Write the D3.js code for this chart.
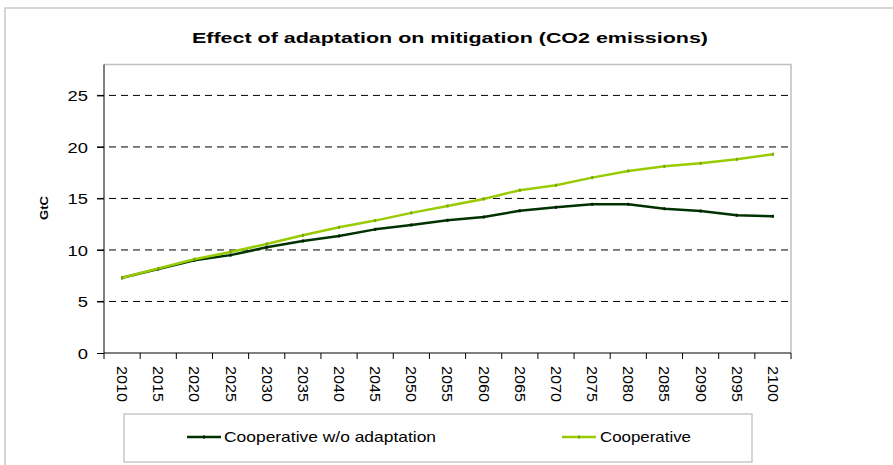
<!DOCTYPE html>
<html>
<head>
<meta charset="utf-8">
<script src="https://cdn.jsdelivr.net/npm/d3@7"></script>
<style>
  html, body { margin: 0; padding: 0; background: #ffffff; }
  svg { display: block; }
  text { font-family: "Liberation Sans", Arial, sans-serif; fill: #000; }
</style>
</head>
<body>
<svg id="chart" width="893" height="465"></svg>
<script>
const title = "Effect of adaptation on mitigation (CO2 emissions)";
const yAxisLabel = "GtC";
const years = ["2010","2015","2020","2025","2030","2035","2040","2045","2050","2055",
               "2060","2065","2070","2075","2080","2085","2090","2095","2100"];
const seriesNames = ["Cooperative w/o adaptation", "Cooperative"];
const noAdaptation = [7.3, 8.15, 9.0, 9.5, 10.26, 10.87, 11.36, 12.0, 12.43, 12.88,
                      13.2, 13.8, 14.14, 14.43, 14.43, 14.0, 13.78, 13.37, 13.27];
const cooperative  = [7.3, 8.2, 9.1, 9.8, 10.58, 11.42, 12.2, 12.85, 13.6, 14.27,
                      14.95, 15.8, 16.28, 17.02, 17.67, 18.12, 18.41, 18.8, 19.29];
const yTicks = [0, 5, 10, 15, 20, 25];
const yMax = 28;

(function () {
const colors = ["#003300", "#99cc00"];
const markerColors = ["#001a00", "#7aa300"];

const svg = d3.select("#chart");

// outer chart border
svg.append("rect")
  .attr("x", 5).attr("y", 8).attr("width", 900).attr("height", 470)
  .attr("fill", "none").attr("stroke", "#c8c8c8").attr("stroke-width", 1.5);

const pL = 104, pR = 791, pT = 64.5, pB = 353;
const x = d3.scaleBand().domain(years).range([pL, pR]).padding(0);
const y = d3.scaleLinear().domain([0, yMax]).range([pB, pT]);
const cx = d => x(d) + x.bandwidth() / 2;

// title
svg.append("text")
  .attr("x", 192).attr("y", 43)
  .attr("font-size", 15.5).attr("font-weight", "bold")
  .attr("textLength", 516).attr("lengthAdjust", "spacingAndGlyphs")
  .text(title);

// plot area border (top/right gray)
svg.append("path")
  .attr("d", `M${pL},${pT}H${pR}V${pB}`)
  .attr("fill", "none").attr("stroke", "#c0c0c0").attr("stroke-width", 1.5);

// gridlines
svg.append("g").selectAll("line")
  .data(yTicks.filter(t => t > 0))
  .join("line")
  .attr("x1", pL - 7).attr("x2", pR)
  .attr("y1", d => y(d)).attr("y2", d => y(d))
  .attr("stroke", "#000").attr("stroke-width", 1)
  .attr("stroke-dasharray", "7,5");

// y axis
const yAxis = d3.axisLeft(y).tickValues(yTicks).tickSize(7).tickPadding(9)
  .tickFormat(d3.format("d"));
const yg = svg.append("g").attr("transform", `translate(${pL},0)`).call(yAxis);
yg.select(".domain").attr("stroke", "#000").attr("d", `M0,${pT}V${pB}`);
yg.selectAll(".tick line").attr("stroke", "#000");
yg.selectAll(".tick text")
  .attr("font-size", 15)
  .attr("font-family", "'Liberation Sans', Arial, sans-serif")
  .attr("x", -16)
  .attr("dy", "0.36em")
  .attr("textLength", d => String(d).length * 10.2)
  .attr("lengthAdjust", "spacingAndGlyphs");

// y-axis label
svg.append("text")
  .attr("transform", "translate(48,208) rotate(-90)")
  .attr("text-anchor", "middle")
  .attr("font-size", 10.5).attr("font-weight", "bold")
  .attr("textLength", 24).attr("lengthAdjust", "spacingAndGlyphs")
  .text(yAxisLabel);

// x axis
svg.append("line")
  .attr("x1", pL).attr("x2", pR).attr("y1", pB).attr("y2", pB)
  .attr("stroke", "#000").attr("stroke-width", 1);
const boundaries = years.map(d => x(d)).concat([x.range()[1]]);
svg.append("g").selectAll("line")
  .data(boundaries)
  .join("line")
  .attr("x1", d => d).attr("x2", d => d)
  .attr("y1", pB).attr("y2", pB + 6)
  .attr("stroke", "#000");
svg.append("g").selectAll("text")
  .data(years)
  .join("text")
  .attr("transform", d => `translate(${cx(d)},366) rotate(90)`)
  .attr("dy", "0.36em")
  .attr("font-size", 14)
  .attr("textLength", 36).attr("lengthAdjust", "spacingAndGlyphs")
  .text(d => d);

// series
const series = [noAdaptation, cooperative];
const line = d3.line().x((d, i) => cx(years[i])).y(d => y(d));
series.forEach((vals, k) => {
  svg.append("path")
    .datum(vals)
    .attr("d", line)
    .attr("fill", "none")
    .attr("stroke", colors[k])
    .attr("stroke-width", 2.5)
    .attr("stroke-linejoin", "round");
  svg.append("g").selectAll("rect")
    .data(vals)
    .join("rect")
    .attr("x", (d, i) => cx(years[i]) - 1)
    .attr("y", d => y(d) - 1.5)
    .attr("width", 2).attr("height", 3)
    .attr("fill", markerColors[k]);
});

// legend
svg.append("rect")
  .attr("x", 124).attr("y", 414).attr("width", 628).attr("height", 48)
  .attr("fill", "#fff").attr("stroke", "#c8c8c8").attr("stroke-width", 1.5);
const legendItems = [
  { x1: 187, x2: 221, tx: 224, tl: 212 },
  { x1: 562, x2: 596, tx: 600, tl: 91 }
];
legendItems.forEach((it, k) => {
  svg.append("line")
    .attr("x1", it.x1).attr("x2", it.x2).attr("y1", 437).attr("y2", 437)
    .attr("stroke", colors[k]).attr("stroke-width", 2.5);
  svg.append("rect")
    .attr("x", (it.x1 + it.x2) / 2 - 1).attr("y", 435.5).attr("width", 2).attr("height", 3)
    .attr("fill", markerColors[k]);
  svg.append("text")
    .attr("x", it.tx).attr("y", 442)
    .attr("font-size", 15)
    .attr("textLength", it.tl).attr("lengthAdjust", "spacingAndGlyphs")
    .text(seriesNames[k]);
});
})();
</script>
</body>
</html>
